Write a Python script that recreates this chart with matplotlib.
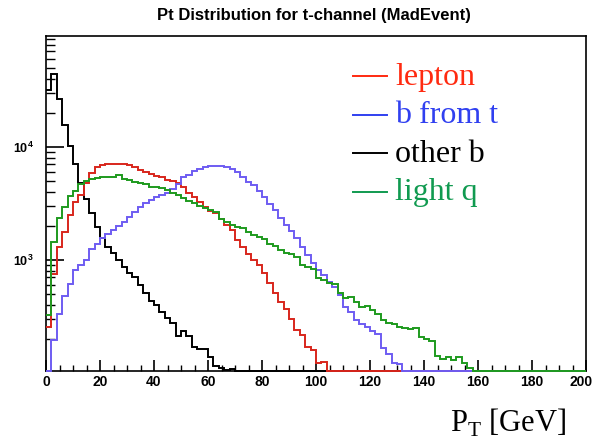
import numpy as np
import matplotlib
matplotlib.use("Agg")
import matplotlib.pyplot as plt
import matplotlib.transforms as mtransforms
from matplotlib.ticker import MultipleLocator, LogLocator, FuncFormatter, NullFormatter

plt.rcParams['mathtext.fontset'] = 'custom'
plt.rcParams['mathtext.rm'] = 'Liberation Serif'
plt.rcParams['mathtext.bf'] = 'Liberation Sans:bold'

# ---- data: 100 bins of 2 GeV, 0..200 GeV ----
bin_edges = np.arange(0, 202, 2)

other_b = [31900, 44300, 26800, 15700, 10300, 7000, 4750, 3450, 2600, 1970,
           1580, 1310, 1146, 1000, 873, 760, 700, 600, 507, 436,
           400, 349, 305, 275, 212, 237, 212, 169, 162, 162,
           139, 114, 110, 106, 109]

lepton = [257, 752, 1310, 1780, 2500, 3280, 3760, 4780, 5850, 6600,
          6930, 7070, 7070, 7070, 7070, 6930, 6700, 6250, 6050, 5770,
          5530, 5460, 5100, 5040, 4780, 4450, 3890, 3590, 3240, 2960,
          2730, 2620, 2290, 2040, 1840, 1500, 1310, 1130, 1000, 903,
          763, 622, 507, 428, 370, 300, 240, 215, 170, 160,
          122, 125]

b_from_t = [0, 196, 335, 480, 610, 810, 903, 1000, 1260, 1380,
            1560, 1690, 1830, 2000, 2180, 2420, 2680, 2950, 3180, 3400,
            3590, 3760, 3950, 4260, 4720, 5390, 5660, 6170, 6350, 6620,
            6800, 6800, 6800, 6620, 6350, 6050, 5390, 4930, 4610, 4110,
            3630, 3130, 2770, 2340, 2040, 1816, 1556, 1290, 1100, 947,
            816, 737, 643, 573, 490, 386, 349, 294, 271, 257,
            235, 220, 165, 147, 122, 120]

light_q = [326, 1452, 2340, 2960, 3680, 4100, 4700, 5000, 5210, 5350,
           5460, 5460, 5460, 5660, 5210, 5100, 4930, 4780, 4670, 4450,
           4390, 4310, 4160, 3920, 3760, 3510, 3330, 3170, 3010, 2870,
           2770, 2680, 2290, 2180, 2040, 1950, 1910, 1780, 1660, 1590,
           1525, 1386, 1330, 1226, 1146, 1130, 1070, 903, 862, 827,
           688, 665, 630, 613, 507, 458, 468, 428, 386, 392,
           361, 333, 294, 279, 271, 257, 249, 243, 249, 209,
           198, 190, 141, 134, 139, 130, 137, 122, 110]

labels = ["lepton", "b from t", "other b", "light q"]
text_colors = ["#ff2a10", "#3040f0", "#000000", "#109a50"]

ymin, ymax = 104, 96000

def full(vals):
    v = np.zeros(len(bin_edges) - 1)
    v[:len(vals)] = vals
    return np.maximum(v, ymin)

fig = plt.figure(figsize=(5.94, 4.42), dpi=100)
ax = fig.add_axes([46/594, 1 - 371/442, 540/594, 335/442])

series = [(other_b, "#000000"), (lepton, "#d8261c"), (b_from_t, "#6e5cf2"), (light_q, "#1e9a1e")]
for i, (vals, col) in enumerate(series):
    ax.stairs(full(vals), bin_edges, baseline=None, color=col, lw=1.4,
              clip_on=False, zorder=3 + i)

ax.set_yscale('log')
ax.set_xlim(0, 200)
ax.set_ylim(ymin, ymax)

for s in ax.spines.values():
    s.set_linewidth(1.2)
    s.set_zorder(2)

ax.xaxis.set_major_locator(MultipleLocator(20))
ax.xaxis.set_minor_locator(MultipleLocator(5))
ax.yaxis.set_major_locator(LogLocator(base=10, numticks=10))
ax.yaxis.set_minor_locator(LogLocator(base=10, subs=np.arange(2, 10), numticks=20))
ax.yaxis.set_minor_formatter(NullFormatter())
ax.yaxis.set_major_formatter(FuncFormatter(lambda v, p: r'$\mathbf{10^{%d}}$' % int(round(np.log10(v)))))

ax.tick_params(axis='x', which='major', direction='in', length=8, width=1.2,
               top=False, pad=3, labelsize=10)
ax.tick_params(axis='x', which='minor', direction='in', length=4, width=1.0, top=False)
ax.tick_params(axis='y', which='major', direction='in', length=13, width=1.2,
               right=False, pad=9, labelsize=9)
ax.tick_params(axis='y', which='minor', direction='in', length=6.5, width=1.0, right=False)

fig.canvas.draw()
xlabels = ax.get_xticklabels()
for lab in xlabels:
    lab.set_fontfamily('Liberation Sans')
    lab.set_fontweight('bold')
# nudge the last label ("200") left so it stays inside the figure
last = [l for l in xlabels if l.get_text() in ('200', '$\\mathdefault{200}$')]
for l in last:
    l.set_transform(l.get_transform() + mtransforms.ScaledTranslation(-5/100, 0, fig.dpi_scale_trans))

fig.text(314/594, 1 - 15.5/442, "Pt Distribution for t-channel (MadEvent)",
         ha='center', va='center', fontsize=12, fontweight='bold',
         fontfamily='Liberation Sans')

# legend
row_y = [76, 114.5, 153, 191.5]
for lab, col, yy in zip(labels, text_colors, row_y):
    fig.add_artist(plt.Line2D([352.7/594, 387.3/594], [1 - yy/442, 1 - yy/442],
                              color=col, lw=1.4))
    fig.text(395/594, 1 - (yy + 1)/442, lab, ha='left', va='center',
             fontsize=23, fontfamily='Liberation Serif', color=col)

fig.text(450/594, 1 - 432/442, r'P$_{\mathrm{T}}$ [GeV]', ha='left', va='baseline',
         fontsize=22, fontfamily='Liberation Serif')

fig.savefig("out.png", dpi=100)
